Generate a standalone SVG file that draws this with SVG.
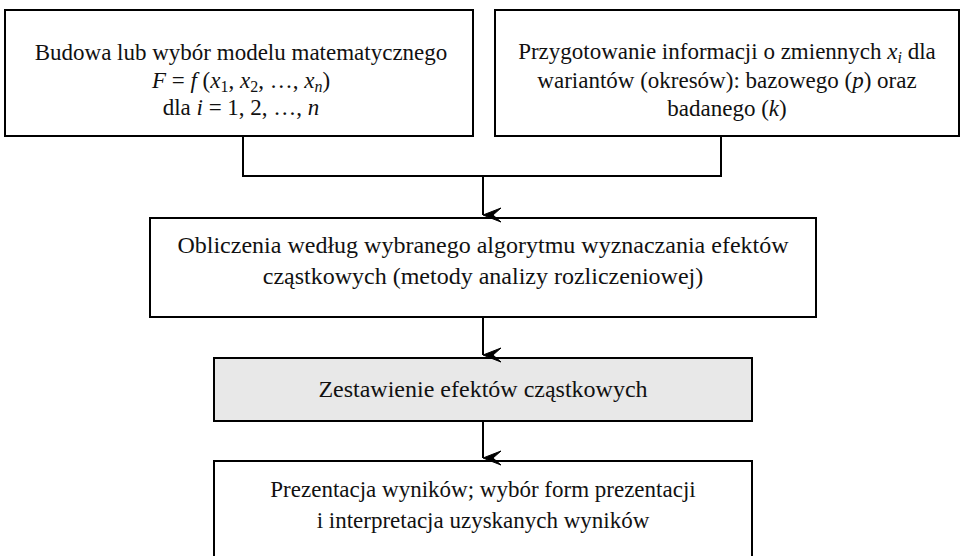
<svg xmlns="http://www.w3.org/2000/svg" width="962" height="556" viewBox="0 0 962 556">
  <defs>
    <marker id="arr" viewBox="0 0 16 20" refX="8" refY="20" markerWidth="16" markerHeight="20" markerUnits="userSpaceOnUse" orient="auto">
      <path d="M1,2 L8,20 L15,2 L8,10 Z" fill="#000" stroke="#000" stroke-width="1" stroke-linejoin="miter"/>
    </marker>
  </defs>
  <style>
    .box { fill: #fff; stroke: #000; stroke-width: 2; }
    .gray { fill: #e8e8e8; }
    .t { font-family: "Liberation Serif", "Times New Roman", serif; font-size: 23px; fill: #111; text-anchor: middle; }
    .b { font-size: 24px; }
    .i { font-style: italic; }
    .conn { fill: none; stroke: #000; stroke-width: 2; }
  </style>
  <rect width="962" height="556" fill="#fff"/>

  <g id="model">
    <rect class="box" x="5" y="10" width="468" height="126"/>
    <text class="t" x="241" y="60">Budowa lub wybór modelu matematycznego</text>
    <text class="t" x="241" y="88"><tspan class="i">F</tspan> = <tspan class="i">f</tspan> (<tspan class="i">x</tspan><tspan font-size="16" dy="4">1</tspan><tspan dy="-4">, </tspan><tspan class="i">x</tspan><tspan font-size="16" dy="4">2</tspan><tspan dy="-4">, …, </tspan><tspan class="i">x</tspan><tspan class="i" font-size="16" dy="4">n</tspan><tspan dy="-4">)</tspan></text>
    <text class="t" x="241" y="115">dla <tspan class="i">i</tspan> = 1, 2, …, <tspan class="i">n</tspan></text>
  </g>

  <g id="info">
    <rect class="box" x="495" y="10" width="464" height="126"/>
    <text class="t" x="727" y="59">Przygotowanie informacji o zmiennych <tspan class="i">x</tspan><tspan class="i" font-size="16" dy="4">i</tspan><tspan dy="-4"> dla</tspan></text>
    <text class="t" x="727" y="88">wariantów (okresów): bazowego (<tspan class="i">p</tspan>) oraz</text>
    <text class="t" x="727" y="116">badanego (<tspan class="i">k</tspan>)</text>
  </g>

  <g id="obliczenia">
    <rect class="box" x="150" y="218" width="666" height="99"/>
    <text class="t b" x="483" y="253">Obliczenia według wybranego algorytmu wyznaczania efektów</text>
    <text class="t b" x="483" y="284">cząstkowych (metody analizy rozliczeniowej)</text>
  </g>

  <g id="zestawienie">
    <rect class="box gray" x="214" y="358" width="538" height="63"/>
    <text class="t b" x="483" y="397">Zestawienie efektów cząstkowych</text>
  </g>

  <g id="prezentacja">
    <rect class="box" x="214" y="461" width="538" height="110"/>
    <text class="t" x="483" y="497">Prezentacja wyników; wybór form prezentacji</text>
    <text class="t" x="483" y="528">i interpretacja uzyskanych wyników</text>
  </g>

  <g id="connectors">
    <path class="conn" d="M243,137 V176 H721 V137"/>
    <path class="conn" d="M483,176 V215" marker-end="url(#arr)"/>
    <path class="conn" d="M483,318 V355" marker-end="url(#arr)"/>
    <path class="conn" d="M483,422 V458" marker-end="url(#arr)"/>
  </g>
</svg>
